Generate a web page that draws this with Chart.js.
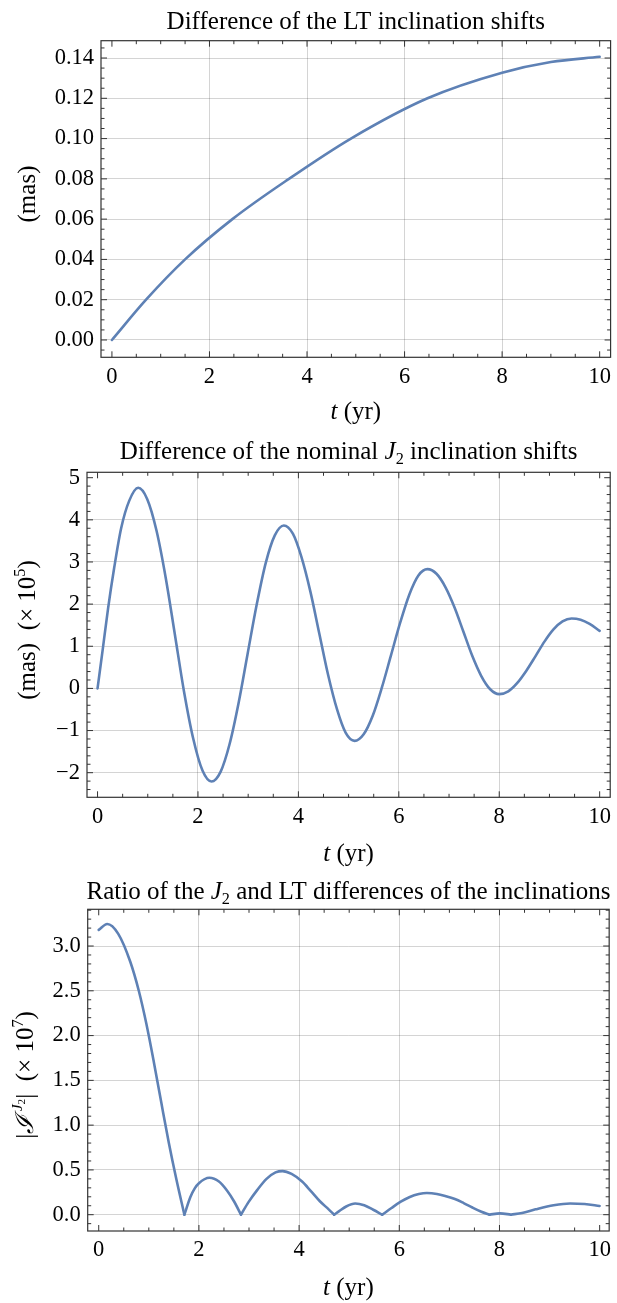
<!DOCTYPE html>
<html><head><meta charset="utf-8">
<script src="https://cdn.jsdelivr.net/npm/chart.js@4"></script>
<style>
html,body{margin:0;padding:0;background:#fff;}
#wrap{position:relative;width:617px;height:1303px;overflow:hidden;}
canvas{position:absolute;left:0;}
</style></head><body>
<div id="wrap">
<canvas id="c1" width="617" height="430" style="top:0px"></canvas>
<canvas id="c2" width="617" height="440" style="top:430px"></canvas>
<canvas id="c3" width="617" height="433" style="top:870px"></canvas>
</div>
<script>
// ---------- data ----------
const xTicks = [0, 2, 4, 6, 8, 10];
const xTickLabels = ['0', '2', '4', '6', '8', '10'];
const xGrid = [2, 4, 6, 8];

// Panel 1: Difference of the LT inclination shifts (mas)
const t1 = [0, 0.7, 1.5, 2.47, 3.63, 4.9, 6.47, 8, 9, 10];
const v1 = [0, 0.02, 0.04, 0.06, 0.08, 0.10, 0.12, 0.1327, 0.138, 0.1406];
const yTicks1 = [0, 0.02, 0.04, 0.06, 0.08, 0.10, 0.12, 0.14];
const yTickLabels1 = ['0.00', '0.02', '0.04', '0.06', '0.08', '0.10', '0.12', '0.14'];
const yGrid1 = [0, 0.02, 0.04, 0.06, 0.08, 0.10, 0.12, 0.14];

// Panel 2: Difference of the nominal J2 inclination shifts (mas x 1e5)
const t2 = [0, 0.106, 0.21, 0.33, 0.47, 0.63, 0.81, 0.99, 1.175, 1.36, 1.54, 1.72, 1.905, 2.09, 2.27,
            2.45, 2.63, 2.81, 2.99, 3.17, 3.35, 3.53, 3.71, 3.89, 4.06, 4.24, 4.415, 4.59, 4.77, 4.94, 5.12,
            5.30, 5.48, 5.66, 5.845, 6.03, 6.21, 6.39, 6.57, 6.75, 6.93, 7.11, 7.285, 7.46, 7.64, 7.82, 8.0,
            8.18, 8.36, 8.54, 8.72, 8.90, 9.08, 9.26, 9.44, 9.62, 9.80, 10];
const v2 = [0, 0.95, 1.9, 2.85, 3.8, 4.45, 4.76, 4.49, 3.74, 2.61, 1.28, -0.06, -1.19, -1.95, -2.21,
            -1.98, -1.32, -0.34, 0.83, 1.99, 2.98, 3.63, 3.865, 3.67, 3.12, 2.29, 1.31, 0.33, -0.50, -1.05, -1.246,
            -1.09, -0.65, 0.01, 0.79, 1.57, 2.23, 2.68, 2.83, 2.72, 2.40, 1.92, 1.35, 0.78, 0.30, -0.02, -0.135,
            -0.07, 0.13, 0.42, 0.76, 1.11, 1.40, 1.59, 1.66, 1.63, 1.53, 1.365];
const yTicks2 = [-2, -1, 0, 1, 2, 3, 4, 5];
const yTickLabels2 = ['\u22122', '\u22121', '0', '1', '2', '3', '4', '5'];
const yGrid2 = [-2, -1, 0, 1, 2, 3, 4];

// Panel 3: Ratio |I^J2| (x 1e7)
const t3 = [0, 0.17, 0.39, 0.63, 0.8, 0.95, 1.1, 1.25, 1.4, 1.55, 1.71,
            1.83, 1.92, 2.0, 2.21, 2.4, 2.56, 2.7, 2.84,
            2.99, 3.17, 3.35, 3.53, 3.67, 3.85, 4.06, 4.24, 4.415, 4.59, 4.70,
            4.80, 4.94, 5.12, 5.30, 5.48, 5.66,
            5.845, 6.03, 6.21, 6.39, 6.55, 6.75, 6.93, 7.11, 7.285, 7.46, 7.64, 7.80,
            8.01, 8.23,
            8.45, 8.72, 9.08, 9.41, 9.7, 10];
const v3 = [3.18, 3.246, 3.136, 2.824, 2.50, 2.134, 1.706, 1.249, 0.80, 0.395, 0,
            0.198, 0.297, 0.352, 0.412, 0.37, 0.27, 0.15, 0,
            0.14, 0.28, 0.40, 0.472, 0.487, 0.455, 0.37, 0.26, 0.15, 0.06, 0,
            0.04, 0.092, 0.125, 0.105, 0.055, 0,
            0.075, 0.145, 0.198, 0.23, 0.242, 0.232, 0.207, 0.175, 0.13, 0.08, 0.033, 0,
            0.015, 0,
            0.02, 0.06, 0.105, 0.125, 0.12, 0.098];
const yTicks3 = [0, 0.5, 1.0, 1.5, 2.0, 2.5, 3.0];
const yTickLabels3 = ['0.0', '0.5', '1.0', '1.5', '2.0', '2.5', '3.0'];
const yGrid3 = [0, 0.5, 1.0, 1.5, 2.0, 2.5, 3.0];

// ---------- styling ----------
const SERIF = '"Liberation Serif", "Times New Roman", "DejaVu Serif", serif';
const LINE = '#5E81B5';
const GRID = 'rgba(0,0,0,0.17)';
const FRAME = '#333333';
const TICKSIZE = 22.5;
const LABELSIZE = 25;

function fnt(size, it) { return (it ? 'italic ' : '') + size + 'px ' + SERIF; }
function drawRuns(ctx, runs, cx, by, base) {
  let total = 0; const m = [];
  runs.forEach(r => {
    const s = base * (r.s || 1);
    ctx.font = fnt(s, r.it);
    const w = ctx.measureText(r.t).width + (r.k || 0) * base;
    m.push({ r, s, w }); total += w;
  });
  let x = cx - total / 2;
  ctx.textAlign = 'left'; ctx.textBaseline = 'alphabetic'; ctx.fillStyle = '#000';
  m.forEach(({ r, s, w }) => {
    ctx.font = fnt(s, r.it);
    ctx.fillText(r.t, x, by + (r.dy || 0) * base);
    x += w;
  });
}

const framePlugin = {
  id: 'frame',
  afterDraw(chart) {
    const o = chart.config.options.plugins.frame;
    const { ctx, chartArea: a, scales: { x, y } } = chart;
    ctx.save();
    ctx.strokeStyle = FRAME; ctx.lineWidth = 1.2;
    ctx.strokeRect(a.left, a.top, a.right - a.left, a.bottom - a.top);
    ctx.lineWidth = 1;
    ctx.beginPath();
    const isMajor = (v, arr, step) => arr.some(m => Math.abs(m - v) < step * 1e-3);
    for (let k = Math.ceil(x.min / o.xMinor); k * o.xMinor <= x.max; k++) {
      const v = k * o.xMinor, px = x.getPixelForValue(v);
      const L = isMajor(v, xTicks, o.xMinor) ? 6 : 3.5;
      ctx.moveTo(px, a.bottom); ctx.lineTo(px, a.bottom - L);
      ctx.moveTo(px, a.top); ctx.lineTo(px, a.top + L);
    }
    for (let k = Math.ceil(y.min / o.yMinor); k * o.yMinor <= y.max; k++) {
      const v = k * o.yMinor, py = y.getPixelForValue(v);
      const L = isMajor(v, o.yTicks, o.yMinor) ? 6 : 3.5;
      ctx.moveTo(a.left, py); ctx.lineTo(a.left + L, py);
      ctx.moveTo(a.right, py); ctx.lineTo(a.right - L, py);
    }
    ctx.stroke();
    const cxA = (a.left + a.right) / 2;
    drawRuns(ctx, o.title, cxA, o.titleY, LABELSIZE);
    drawRuns(ctx, [{ t: 't', it: true }, { t: ' (yr)' }], cxA, a.bottom + o.xTitleDy, LABELSIZE);
    ctx.save();
    ctx.translate(o.yTitleX, o.yTitleY);
    ctx.rotate(-Math.PI / 2);
    drawRuns(ctx, o.yTitle, 0, 0, LABELSIZE);
    ctx.restore();
    ctx.restore();
  }
};

function toXY(ts, vs) { return ts.map((t, i) => ({ x: t, y: vs[i] })); }
function lineDs(data) {
  return { data, borderColor: LINE, borderWidth: 2.6, pointRadius: 0, fill: false,
           cubicInterpolationMode: 'monotone', borderCapStyle: 'round', borderJoinStyle: 'round' };
}
// split |.| curve at its zeros so that cusps stay sharp
function splitAtZeros(ts, vs) {
  const segs = []; let cur = [];
  ts.forEach((t, i) => {
    cur.push({ x: t, y: vs[i] });
    if (vs[i] === 0 && cur.length > 1 && i < ts.length - 1) { segs.push(cur); cur = [{ x: t, y: 0 }]; }
  });
  if (cur.length > 1) segs.push(cur);
  return segs;
}

function makeChart(id, c) {
  return new Chart(document.getElementById(id), {
    type: 'line',
    data: { datasets: c.datasets },
    options: {
      responsive: false, animation: false, events: [],
      layout: { padding: { left: 0, top: c.top, right: c.right, bottom: 0 } },
      plugins: { legend: { display: false }, tooltip: { enabled: false }, frame: c },
      scales: {
        x: {
          type: 'linear', min: c.xmin, max: c.xmax,
          afterBuildTicks: s => { s.ticks = xTicks.map(v => ({ value: v })); },
          afterFit: s => { s.height = c.xh; },
          ticks: { autoSkip: false, maxRotation: 0, minRotation: 0, padding: 6, color: '#000',
                   font: { family: SERIF, size: TICKSIZE }, callback: (v, i) => xTickLabels[i] },
          grid: { drawTicks: false, lineWidth: 1,
                  color: g => (g.tick && xGrid.includes(g.tick.value)) ? GRID : 'rgba(0,0,0,0)' },
          border: { display: false }
        },
        y: {
          type: 'linear', min: c.ymin, max: c.ymax,
          afterBuildTicks: s => { s.ticks = c.yTicks.map(v => ({ value: v })); },
          afterFit: s => { s.width = c.yw; },
          ticks: { autoSkip: false, padding: 7, color: '#000',
                   font: { family: SERIF, size: TICKSIZE }, callback: (v, i) => c.yLabels[i] },
          grid: { drawTicks: false, lineWidth: 1,
                  color: g => (g.tick && c.yGrid.some(m => Math.abs(m - g.tick.value) < 1e-9)) ? GRID : 'rgba(0,0,0,0)' },
          border: { display: false }
        }
      }
    },
    plugins: [framePlugin]
  });
}

makeChart('c1', {
  datasets: [lineDs(toXY(t1, v1))],
  top: 40.7, right: 4, yw: 101, xh: 72.7,
  xmin: -0.224, xmax: 10.224, ymin: -0.0086, ymax: 0.1486,
  yTicks: yTicks1, yLabels: yTickLabels1, yGrid: yGrid1,
  xMinor: 0.5, yMinor: 0.005,
  title: [{ t: 'Difference of the LT inclination shifts' }], titleY: 29.2,
  xTitleDy: 62,
  yTitle: [{ t: '(mas)' }], yTitleX: 35, yTitleY: 194
});

makeChart('c2', {
  datasets: [lineDs(toXY(t2, v2))],
  top: 42.3, right: 4, yw: 87, xh: 72.7,
  xmin: -0.21, xmax: 10.21, ymin: -2.584, ymax: 5.128,
  yTicks: yTicks2, yLabels: yTickLabels2, yGrid: yGrid2,
  xMinor: 0.5, yMinor: 0.2,
  title: [{ t: 'Difference of the nominal ' }, { t: 'J', it: true }, { t: '2', s: 0.65, dy: 0.2 }, { t: ' inclination shifts' }],
  titleY: 29.3,
  xTitleDy: 63.5,
  yTitle: [{ t: '(mas)  (\u00d7 10' }, { t: '5', s: 0.65, dy: -0.42 }, { t: ')' }], yTitleX: 35, yTitleY: 200
});

makeChart('c3', {
  datasets: splitAtZeros(t3, v3).map(seg => lineDs(seg)),
  top: 39.3, right: 5, yw: 87.7, xh: 72,
  xmin: -0.22, xmax: 10.19, ymin: -0.182, ymax: 3.41,
  yTicks: yTicks3, yLabels: yTickLabels3, yGrid: yGrid3,
  xMinor: 0.5, yMinor: 0.1,
  title: [{ t: 'Ratio of the ' }, { t: 'J', it: true }, { t: '2', s: 0.65, dy: 0.2 }, { t: ' and LT differences of the inclinations' }],
  titleY: 28.5,
  xTitleDy: 64,
  yTitle: [{ t: '|' }, { t: '\u2110', it: true }, { t: ' J', it: true, s: 0.6, dy: -0.45 }, { t: '2', s: 0.45, dy: -0.33 }, { t: '|  (\u00d7 10' }, { t: '7', s: 0.65, dy: -0.42 }, { t: ')' }],
  yTitleX: 33, yTitleY: 205
});
</script>
</body></html>
